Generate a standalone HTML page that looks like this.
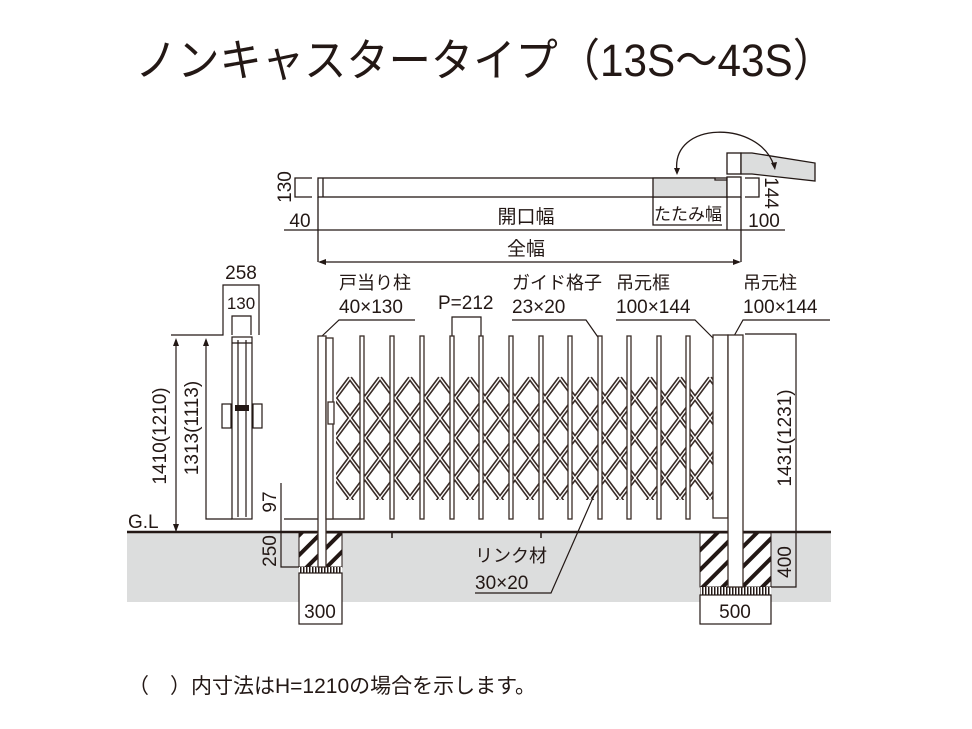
<!DOCTYPE html>
<html><head><meta charset="utf-8"><style>
html,body{margin:0;padding:0;background:#fff;}
svg{display:block;}
text{font-family:"Liberation Sans","Noto Sans CJK JP",sans-serif;fill:#231815;}
</style></head><body>
<svg width="972" height="729" viewBox="0 0 972 729" xmlns="http://www.w3.org/2000/svg">
<defs>
<clipPath id="lc"><rect x="336" y="376" width="377" height="124"/></clipPath>
<pattern id="hatch" width="14" height="14" patternUnits="userSpaceOnUse" patternTransform="rotate(45)">
<rect width="14" height="14" fill="#fff"/><rect x="0" y="0" width="4" height="14" fill="#231815"/>
</pattern>
<pattern id="grav" width="3" height="6" patternUnits="userSpaceOnUse"><rect width="3" height="6" fill="#fff"/><rect width="1.5" height="6" fill="#231815"/></pattern>
</defs>
<text x="485" y="76" font-size="45" text-anchor="middle" textLength="700" lengthAdjust="spacingAndGlyphs">ノンキャスタータイプ（13S～43S）</text>

<rect x="127" y="532" width="704" height="70" fill="#dcdddd"/>
<line x1="127" y1="532" x2="831" y2="532" stroke="#231815" stroke-width="2.5"/>
<text x="128" y="528" font-size="19">G.L</text>

<g stroke="#231815" stroke-width="1.3" fill="none">
<rect x="318" y="178" width="409" height="19" fill="#fff"/>
<line x1="323" y1="178" x2="323" y2="197"/>
<path d="M653 178 H715 V180 H727 V197 H653 Z" fill="#dcdddd"/>
<rect x="727" y="177" width="14" height="20" fill="#fff"/>
<path d="M312 178 H295 V197 H312"/>
<path d="M745 178 H759 V197 H745"/>
<path d="M653 197 V225 H722"/>
<line x1="284" y1="230" x2="785" y2="230"/>
<line x1="318" y1="197" x2="318" y2="262"/>
<line x1="741" y1="197" x2="741" y2="262"/>
<line x1="727" y1="197" x2="727" y2="230"/>
<line x1="320" y1="262" x2="739" y2="262"/>
<rect x="727" y="153" width="14" height="21" fill="#fff"/>
<path d="M741 153 H752 L815 163 V181 L752 174 H741 Z" fill="#dcdddd"/>
<path d="M677 172 C670 120 760 120 774 166"/>
</g>
<path d="M318 262 l8 -3 v6 z M741 262 l-8 -3 v6 z M677 175 l-3 -7 h6 z M775 170 l-4 -7 l6 -1 z" fill="#231815"/>
<text transform="translate(291,187) rotate(-90)" font-size="19" text-anchor="middle">130</text>
<text transform="translate(765,193) rotate(90)" font-size="19" text-anchor="middle">144</text>
<text x="300" y="227" font-size="19" text-anchor="middle">40</text>
<text x="526" y="223" font-size="19" text-anchor="middle">開口幅</text>
<text x="688" y="220" font-size="17" text-anchor="middle">たたみ幅</text>
<text x="764" y="227" font-size="19" text-anchor="middle">100</text>
<text x="526" y="255" font-size="19" text-anchor="middle">全幅</text>

<text x="241" y="279" font-size="19" text-anchor="middle">258</text>
<text x="241" y="309" font-size="17" text-anchor="middle">130</text>
<text x="339" y="289" font-size="18">戸当り柱</text>
<text x="339" y="313" font-size="19">40×130</text>
<text x="438" y="309" font-size="19">P=212</text>
<text x="512" y="289" font-size="18">ガイド格子</text>
<text x="512" y="313" font-size="19">23×20</text>
<text x="616" y="289" font-size="18">吊元框</text>
<text x="616" y="313" font-size="19">100×144</text>
<text x="743" y="289" font-size="18">吊元柱</text>
<text x="743" y="313" font-size="19">100×144</text>
<g stroke="#231815" stroke-width="1.2" fill="none">
<path d="M415 320 H339 L321 337"/>
<path d="M452 337 V317 H481 V337"/>
<path d="M512 320 H586 L600 340"/>
<path d="M616 320 H695 L713 338"/>
<path d="M830 320 H743 L734 336"/>
<path d="M259 335 V285 H223 V335 H171"/>
<path d="M232 335 V316 H251 V335"/>
<line x1="176" y1="340" x2="176" y2="532"/>
<path d="M206 340 V519 H232"/>
<rect x="232" y="337" width="20" height="182" fill="#fff"/>
<line x1="238" y1="340" x2="238" y2="517"/><line x1="246" y1="340" x2="246" y2="517"/>
<line x1="232" y1="343" x2="252" y2="343"/>
<rect x="222" y="404" width="9" height="24" fill="#fff"/><rect x="253" y="404" width="9" height="24" fill="#fff"/>
<path d="M281 483 V567 H342"/>
<line x1="284" y1="519" x2="362" y2="519"/>
</g>
<rect x="235" y="405" width="14" height="6" fill="#231815"/>
<path d="M176 338 l-3 8 h6 z M206 338 l-3 8 h6 z M176 532 l-3 -8 h6 z" fill="#231815"/>
<text transform="translate(166,436) rotate(-90)" font-size="19" text-anchor="middle">1410(1210)</text>
<text transform="translate(198,428) rotate(-90)" font-size="19" text-anchor="middle">1313(1113)</text>
<text transform="translate(276,502) rotate(-90)" font-size="19" text-anchor="middle">97</text>
<text transform="translate(276,551) rotate(-90)" font-size="19" text-anchor="middle">250</text>

<rect x="299" y="533" width="43" height="34" fill="url(#hatch)" stroke="#231815" stroke-width="1"/>
<rect x="299" y="567" width="43" height="6" fill="url(#grav)"/>
<rect x="299" y="573" width="43" height="51" fill="#fff" stroke="#231815" stroke-width="1.2"/>
<text x="320" y="618" font-size="19" text-anchor="middle">300</text>
<rect x="700" y="533" width="71" height="54" fill="url(#hatch)" stroke="#231815" stroke-width="1"/>
<rect x="700" y="587" width="71" height="8" fill="url(#grav)"/>
<rect x="700" y="595" width="71" height="29" fill="#fff" stroke="#231815" stroke-width="1.2"/>
<text x="735" y="618" font-size="19" text-anchor="middle">500</text>

<g clip-path="url(#lc)">
<g id="lat" fill="none">
<path d="M200 378 L470 738 M230 378 L500 738 M260 378 L530 738 M290 378 L560 738 M320 378 L590 738 M350 378 L620 738 M380 378 L650 738 M410 378 L680 738 M440 378 L710 738 M470 378 L740 738 M500 378 L770 738 M530 378 L800 738 M560 378 L830 738 M590 378 L860 738 M620 378 L890 738 M650 378 L920 738 M680 378 L950 738 M710 378 L980 738 M170 378 L440 738"/>
<path d="M350 378 L80 738 M380 378 L110 738 M410 378 L140 738 M440 378 L170 738 M470 378 L200 738 M500 378 L230 738 M530 378 L260 738 M560 378 L290 738 M590 378 L320 738 M620 378 L350 738 M650 378 L380 738 M680 378 L410 738 M710 378 L440 738 M740 378 L470 738 M770 378 L500 738 M800 378 L530 738 M830 378 L560 738"/>
</g>
</g>
<g clip-path="url(#lc)" stroke="#3a2c27" stroke-width="4.5"><use href="#lat"/></g>
<g clip-path="url(#lc)" stroke="#fff" stroke-width="1.3"><use href="#lat"/></g>
<g fill="#fff" stroke="#3a2c27" stroke-width="1.3">
<rect x="318" y="336" width="8" height="231"/>
<rect x="326" y="338" width="7" height="181"/>
<rect x="328" y="402" width="6" height="22"/>
<rect x="360" y="336" width="4" height="183"/>
<rect x="390" y="336" width="4" height="183"/>
<rect x="420" y="336" width="4" height="183"/>
<rect x="450" y="336" width="4" height="183"/>
<rect x="479" y="336" width="4" height="183"/>
<rect x="509" y="336" width="4" height="183"/>
<rect x="539" y="336" width="4" height="183"/>
<rect x="568" y="336" width="4" height="183"/>
<rect x="598" y="336" width="4" height="183"/>
<rect x="627" y="336" width="4" height="183"/>
<rect x="657" y="336" width="4" height="183"/>
<rect x="686" y="336" width="4" height="183"/>
<rect x="713" y="335" width="15" height="183"/>
<rect x="728" y="335" width="15" height="252"/>
</g>
<g stroke="#231815" stroke-width="1.5">
<line x1="392" y1="532" x2="392" y2="538"/><line x1="541" y1="532" x2="541" y2="538"/>
</g>
<g stroke="#231815" stroke-width="1.2" fill="none">
<path d="M745 334 H796 V587 H771"/>
<path d="M475 593 H551 L595 493"/>
</g>
<text transform="translate(791,438) rotate(-90)" font-size="19" text-anchor="middle">1431(1231)</text>
<text transform="translate(791,562) rotate(-90)" font-size="19" text-anchor="middle">400</text>
<text x="475" y="562" font-size="18">リンク材</text>
<text x="475" y="589" font-size="19">30×20</text>

<text x="128" y="693" font-size="21">（　）内寸法はH=1210の場合を示します。</text>
</svg>
</body></html>
